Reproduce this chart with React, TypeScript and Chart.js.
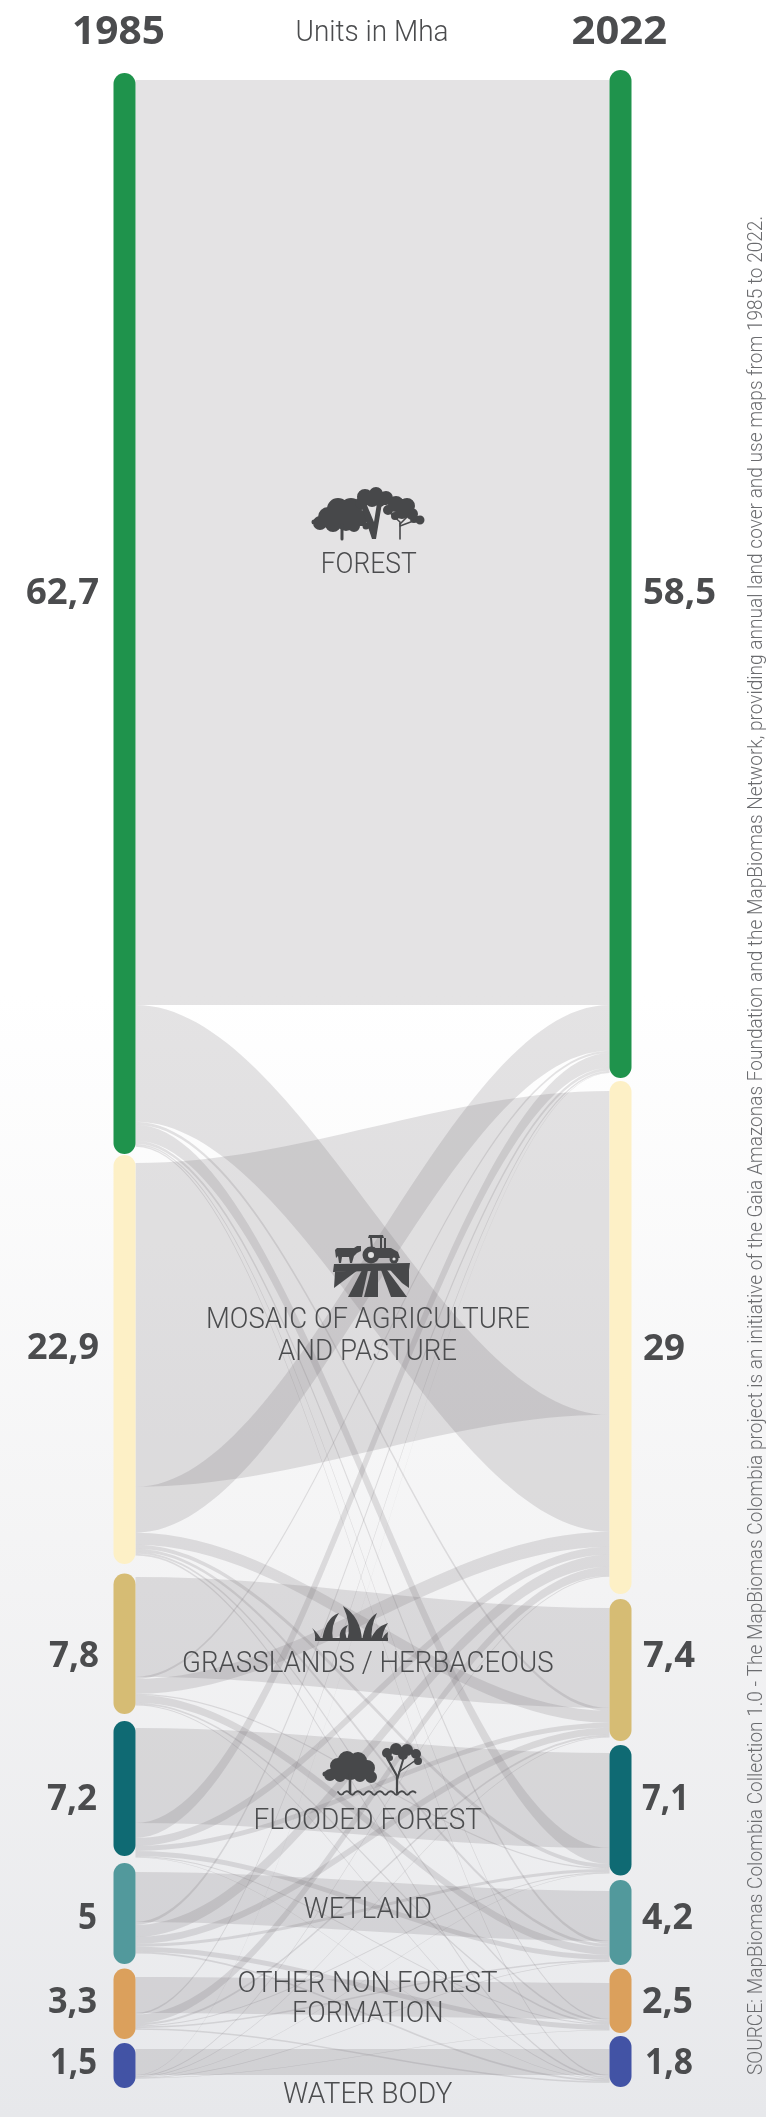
import React, { useEffect, useRef } from "react";
import { Chart, registerables } from "chart.js";

Chart.register(...registerables);

const W = 766;
const H = 2117;

const years = ["1985", "2022"];
const classes = ["Forest", "Mosaic of agriculture and pasture", "Grasslands / herbaceous", "Flooded forest", "Wetland", "Other non forest formation", "Water body"];
const labels1985 = ["62,7", "22,9", "7,8", "7,2", "5", "3,3", "1,5"];
const labels2022 = ["58,5", "29", "7,4", "7,1", "4,2", "2,5", "1,8"];
const railColors = ["#1f934c", "#fdf0c6", "#d6bc74", "#0f6a73", "#52999c", "#dba05c", "#4253a5"];

// rails along the stacked axis, in Mha-equivalent axis units
const rails1985 = [[4.21, 66.51], [66.57, 90.14], [90.69, 98.79], [99.19, 106.97], [107.38, 113.2], [113.46, 117.52], [117.75, 120.35]];
const rails2022 = [[4.03, 62.13], [62.31, 91.87], [92.16, 100.35], [100.58, 108.1], [108.36, 113.26], [113.46, 117.18], [117.35, 120.29]];
const ribbonTop1985 = [4.61, 67.03, 90.89, 99.6, 107.9, 113.95, 118.1];
const ribbonTop2022 = [4.61, 62.88, 92.68, 101.04, 108.99, 114.29, 118.1];

// transition matrix (Mha): row = class in 1985, column = class in 2022
const forestFlows = [53.31, 6.74, 0.17, 0.92, 0.17, 0.09, 0.09];
const mosaicFlows = [2.65, 18.67, 0.69, 0.23, 0.17, 0.12, 0.09];
const grassFlows = [0.12, 0.86, 5.76, 0.06, 0.46, 0.09, 0.06];
const floodedFlows = [0.86, 0.46, 0.29, 5.48, 0.29, 0.06, 0.03];
const wetlandFlows = [0.17, 0.69, 0.4, 0.17, 2.88, 0.29, 0.09];
const otherFlows = [0.09, 0.52, 0.12, 0.06, 0.09, 2.07, 0.09];
const waterFlows = [0.03, 0.06, 0.03, 0.03, 0.03, 0.03, 1.5];
const flows = [forestFlows, mosaicFlows, grassFlows, floodedFlows, wetlandFlows, otherFlows, waterFlows];

const AXIS_MAX = 122.02;
const RAIL_W = 22;
const INK = "#4b4c4e";
const LIGHT = '"Roboto", "Open Sans", sans-serif';
const BOLD = '"Noto Sans", sans-serif';

// [x0, x1, baseline] for each text run
const leftBoxes = [[26, 99, 604], [27, 99, 1359], [49, 99, 1667], [47, 97, 1810], [78, 97, 1929], [48, 97, 2013], [50, 97, 2074]];
const rightBoxes = [[643, 716, 604], [643, 685, 1360], [643, 695, 1667], [642, 689, 1810], [642, 693, 1929], [642, 693, 2013], [645, 693, 2074]];
const captions: [string, number, number, number][] = [
  ["FOREST", 320.7, 416.7, 573],
  ["MOSAIC OF AGRICULTURE", 206, 530, 1328],
  ["AND PASTURE", 278, 457, 1359.6],
  ["GRASSLANDS / HERBACEOUS", 182, 553.6, 1671.5],
  ["FLOODED FOREST", 253.6, 482, 1828.5],
  ["WETLAND", 303.6, 432, 1918],
  ["OTHER NON FOREST", 237.5, 497.5, 1992],
  ["FORMATION", 292, 443.6, 2021.5],
  ["WATER BODY", 283, 452.5, 2103],
];
const SOURCE = "SOURCE: MapBiomas Colombia Collection 1.0 - The MapBiomas Colombia project is an initiative of the Gaia Amazonas Foundation and the MapBiomas Network, providing annual land cover and use maps from 1985 to 2022.";

function fitText(ctx: CanvasRenderingContext2D, t: string, x0: number, x1: number, base: number, font: string, color = INK) {
  ctx.save();
  ctx.font = font;
  ctx.fillStyle = color;
  ctx.textAlign = "left";
  ctx.textBaseline = "alphabetic";
  const m = ctx.measureText(t);
  ctx.translate(x0, base);
  ctx.scale((x1 - x0) / m.width, 1);
  ctx.fillText(t, 0, 0);
  ctx.restore();
}

function circles(ctx: CanvasRenderingContext2D, list: number[][]) {
  ctx.beginPath();
  for (const [x, y, r] of list) {
    ctx.moveTo(x + r, y);
    ctx.arc(x, y, r, 0, Math.PI * 2);
  }
  ctx.fill();
}
function poly(ctx: CanvasRenderingContext2D, pts: number[][]) {
  ctx.beginPath();
  pts.forEach(([x, y], i) => (i ? ctx.lineTo(x, y) : ctx.moveTo(x, y)));
  ctx.closePath();
  ctx.fill();
}
function line(ctx: CanvasRenderingContext2D, pts: number[][], w: number) {
  ctx.lineWidth = w;
  ctx.lineCap = "round";
  ctx.beginPath();
  pts.forEach(([x, y], i) => (i ? ctx.lineTo(x, y) : ctx.moveTo(x, y)));
  ctx.stroke();
}
function blade(ctx: CanvasRenderingContext2D, a: number, b: number, tx: number, ty: number, c1x: number, c1y: number, c2x: number, c2y: number) {
  const base = 1641;
  ctx.beginPath();
  ctx.moveTo(a, base);
  ctx.quadraticCurveTo(c1x, c1y, tx, ty);
  ctx.quadraticCurveTo(c2x, c2y, b, base);
  ctx.closePath();
  ctx.fill();
}

function drawIcons(ctx: CanvasRenderingContext2D) {
  ctx.save();
  ctx.fillStyle = "#47484a";
  ctx.strokeStyle = "#47484a";
  // forest
  circles(ctx, [[328, 517, 10], [338, 509, 11], [351, 509, 11], [360, 518, 8], [320, 523, 7], [333, 524, 8], [346, 521, 10], [314, 522, 2.5], [366, 526, 3.5], [354, 526, 6]]);
  line(ctx, [[342, 525], [342, 539]], 3);
  circles(ctx, [[365, 497, 8], [376, 494, 7], [386, 498, 7], [361, 503, 6], [372, 500, 7], [392, 502, 4], [380, 502, 5]]);
  poly(ctx, [[360, 503], [372, 539], [376, 539], [382, 503], [377, 503], [374, 522], [366, 503]]);
  circles(ctx, [[396, 504, 8], [407, 506, 8], [388, 510, 5], [412, 514, 6], [402, 512, 7], [420, 520, 4.5], [395, 516, 4], [414, 519, 4]]);
  line(ctx, [[400, 539], [400, 522], [389, 512]], 1.6);
  line(ctx, [[400, 524], [411, 513]], 1.6);
  line(ctx, [[400, 526], [416, 520]], 1.4);
  // cow, tractor and field
  poly(ctx, [[335, 1250], [337, 1248], [354, 1248], [357, 1246], [361, 1246], [361, 1251], [357, 1253], [354, 1256], [352, 1263], [350, 1263], [349, 1257], [342, 1257], [341, 1263], [339, 1263], [338, 1256], [336, 1258]]);
  circles(ctx, [[371, 1255, 8.5]]);
  poly(ctx, [[371, 1248], [391, 1248], [398, 1252], [400, 1258], [378, 1258]]);
  circles(ctx, [[394, 1259, 4.5]]);
  poly(ctx, [[369, 1235], [383, 1235], [384, 1238], [382, 1238], [382, 1249], [380, 1249], [380, 1238], [372, 1238], [373, 1249], [371, 1249], [370, 1238], [368, 1238]]);
  poly(ctx, [[384, 1238], [386, 1238], [386, 1250], [384, 1250]]);
  ctx.save();
  ctx.fillStyle = "#e0e0e0";
  circles(ctx, [[371, 1255, 3], [394, 1259, 1.6]]);
  ctx.restore();
  poly(ctx, [[334, 1264], [410, 1263], [409, 1270], [333, 1272]]);
  poly(ctx, [[335, 1272], [358, 1270], [342, 1282], [334, 1288]]);
  poly(ctx, [[362, 1270], [368, 1270], [362, 1297], [348, 1297]]);
  poly(ctx, [[371, 1270], [378, 1270], [378, 1297], [364, 1297]]);
  poly(ctx, [[381, 1270], [387, 1270], [407, 1297], [391, 1297]]);
  poly(ctx, [[390, 1270], [409, 1270], [409, 1288], [402, 1283]]);
  // grass
  blade(ctx, 315, 322, 312, 1628, 316, 1633, 319, 1634);
  blade(ctx, 322, 333, 339, 1613, 325, 1618, 330, 1625);
  blade(ctx, 340, 348, 348, 1625, 338, 1628, 343, 1632);
  blade(ctx, 347, 362, 343, 1606, 352, 1625, 361, 1617);
  blade(ctx, 362, 372, 377, 1613, 365, 1620, 370, 1627);
  blade(ctx, 370, 382, 388, 1623, 375, 1627, 382, 1632);
  blade(ctx, 382, 388, 388, 1632, 383, 1635, 387, 1636);
  poly(ctx, [[315, 1641], [388, 1641], [388, 1638], [315, 1638]]);
  // flooded forest
  circles(ctx, [[338, 1766, 8], [347, 1760, 9], [358, 1761, 9], [367, 1768, 8], [350, 1769, 11], [330, 1775, 6], [340, 1776, 6], [360, 1776, 6], [371, 1777, 6], [325, 1774, 2.5]]);
  line(ctx, [[350, 1775], [350, 1793]], 2.6);
  circles(ctx, [[387, 1753, 5], [396, 1749, 6], [407, 1750, 6], [416, 1754, 5], [403, 1755, 5], [418, 1761, 4], [390, 1758, 3]]);
  line(ctx, [[397, 1793], [397, 1776], [387, 1758]], 2.2);
  line(ctx, [[397, 1780], [403, 1760], [403, 1752]], 2);
  line(ctx, [[399, 1772], [416, 1760]], 1.5);
  ctx.lineWidth = 1.8;
  ctx.beginPath();
  ctx.moveTo(338, 1792);
  for (let i = 0; i < 14; i++) {
    ctx.quadraticCurveTo(341.5 + i * 5.5, i % 2 ? 1790 : 1797, 344 + i * 5.5, 1792.5);
  }
  ctx.stroke();
  ctx.restore();
}

const sankeyPlugin = {
  id: "sankey",
  beforeDraw(chart: any) {
    const { ctx } = chart;
    const grad = ctx.createLinearGradient(0, 0, 0, H);
    grad.addColorStop(0, "#ffffff");
    grad.addColorStop(0.47, "#ffffff");
    grad.addColorStop(0.75, "#f3f3f4");
    grad.addColorStop(1, "#e7e8eb");
    ctx.fillStyle = grad;
    ctx.fillRect(0, 0, W, H);
  },
  beforeDatasetsDraw(chart: any) {
    const { ctx, scales } = chart;
    const x0 = scales.x.getPixelForValue(0) + RAIL_W / 2;
    const x1 = scales.x.getPixelForValue(1) - RAIL_W / 2;
    const y = scales.y;
    const n = classes.length;
    const order = (i: number) => [i, ...classes.map((_, k) => k).filter((k) => k !== i)];
    const startL: number[][] = flows.map((row) => row.map(() => 0));
    const startR: number[][] = flows.map((row) => row.map(() => 0));
    for (let i = 0; i < n; i++) {
      let c = ribbonTop1985[i];
      for (const j of order(i)) {
        startL[i][j] = c;
        c += flows[i][j];
      }
    }
    for (let j = 0; j < n; j++) {
      let c = ribbonTop2022[j];
      for (const i of order(j)) {
        startR[i][j] = c;
        c += flows[i][j];
      }
    }
    const k = 0.35;
    const dx = x1 - x0;
    ctx.save();
    ctx.fillStyle = "rgba(112,106,112,0.19)";
    for (let i = 0; i < n; i++) {
      for (let j = 0; j < n; j++) {
        const v = flows[i][j];
        const a = y.getPixelForValue(startL[i][j]);
        const b = y.getPixelForValue(startR[i][j]);
        const a2 = y.getPixelForValue(startL[i][j] + v);
        const b2 = y.getPixelForValue(startR[i][j] + v);
        ctx.beginPath();
        ctx.moveTo(x0, a);
        ctx.bezierCurveTo(x0 + dx * k, a, x1 - dx * k, b, x1, b);
        ctx.lineTo(x1, b2);
        ctx.bezierCurveTo(x1 - dx * k, b2, x0 + dx * k, a2, x0, a2);
        ctx.closePath();
        ctx.fill();
      }
    }
    ctx.restore();
  },
  afterDatasetsDraw(chart: any) {
    const { ctx } = chart;
    drawIcons(ctx);
    fitText(ctx, years[0], 72, 165, 44, `700 39px ${BOLD}`);
    fitText(ctx, years[1], 571.5, 667, 44, `700 39px ${BOLD}`);
    fitText(ctx, "Units in Mha", 295.5, 448.5, 41, `300 29px ${LIGHT}`);
    labels1985.forEach((t, i) => fitText(ctx, t, leftBoxes[i][0], leftBoxes[i][1], leftBoxes[i][2], `700 36px ${BOLD}`));
    labels2022.forEach((t, i) => fitText(ctx, t, rightBoxes[i][0], rightBoxes[i][1], rightBoxes[i][2], `700 36px ${BOLD}`));
    captions.forEach(([t, a, b, base]) => fitText(ctx, t, a, b, base, `300 29px ${LIGHT}`));
    ctx.save();
    ctx.translate(762, 2075);
    ctx.rotate(-Math.PI / 2);
    fitText(ctx, SOURCE, 0, 1859, 0, `300 20px ${LIGHT}`, "#6b6c6f");
    ctx.restore();
  },
};

export default function App() {
  const ref = useRef<HTMLCanvasElement>(null);
  useEffect(() => {
    const chart = new Chart(ref.current as HTMLCanvasElement, {
      type: "bar",
      data: {
        labels: years,
        datasets: classes.map((name, i) => ({
          label: name,
          data: [rails1985[i], rails2022[i]],
          backgroundColor: railColors[i],
          grouped: false,
          barThickness: RAIL_W,
          borderRadius: RAIL_W / 2,
          borderSkipped: false,
          inflateAmount: 0,
          clip: false,
        })) as any,
      },
      options: {
        animation: false,
        responsive: false,
        layout: { padding: { left: 124.5, right: 145.5, top: 0, bottom: 0 } },
        plugins: { legend: { display: false }, tooltip: { enabled: false } },
        scales: {
          x: { type: "category", display: false, offset: false },
          y: { type: "linear", display: false, reverse: true, min: 0, max: AXIS_MAX },
        },
      },
      plugins: [sankeyPlugin],
    } as any);
    return () => chart.destroy();
  }, []);
  return (
    <div style={{ position: "absolute", left: 0, top: 0, width: W, height: H, overflow: "hidden" }}>
      <canvas ref={ref} width={W} height={H} style={{ display: "block", width: W, height: H }} />
    </div>
  );
}
